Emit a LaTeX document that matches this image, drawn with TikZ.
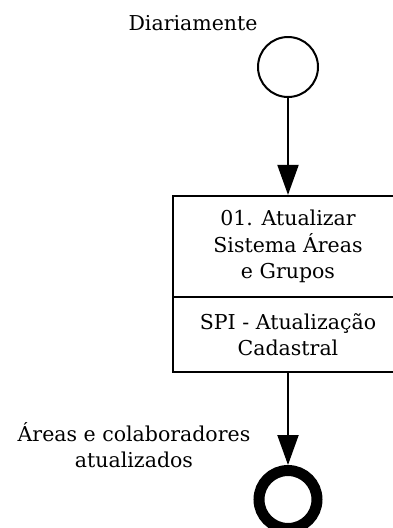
\documentclass[tikz,border=0pt]{standalone}
\usepackage{fontspec}
\setmainfont{DejaVu Serif}
\usetikzlibrary{arrows.meta}
\begin{document}
\begin{tikzpicture}[x=1pt,y=-1pt,
  lbl/.style={font=\fontsize{20.5}{26.5}\selectfont, inner sep=0pt, align=center},
  startev/.style={circle, draw, line width=2pt, minimum size=60pt, inner sep=0pt},
  endev/.style={circle, draw, line width=11pt, minimum size=58pt, inner sep=0pt},
  taskpart/.style={rectangle, draw, line width=2.2pt, minimum width=230pt, inner sep=0pt,
    font=\fontsize{20.5}{26.5}\selectfont, align=center},
  flow/.style={line width=2pt, -{Triangle[length=30pt,width=21pt]}}
]
\useasboundingbox (0,0) rectangle (392,528);
\node[startev] (start) at (288,67) {};
\node[lbl, anchor=base] (startlbl) at (193,30) {Diariamente};
\node[taskpart, minimum height=101pt] (task) at (288,246.5) {01. Atualizar\\Sistema Áreas\\e Grupos};
\node[taskpart, minimum height=75pt] (tasksys) at (288,334.5) {SPI - Atualização\\Cadastral};
\node[endev] (end) at (288,499.5) {};
\node[lbl] (endlbl) at (134,445) {Áreas e colaboradores\\atualizados};
\draw[flow] (start.south) -- (task.north);
\draw[flow] (tasksys.south) -- (end.north);
\end{tikzpicture}
\end{document}
